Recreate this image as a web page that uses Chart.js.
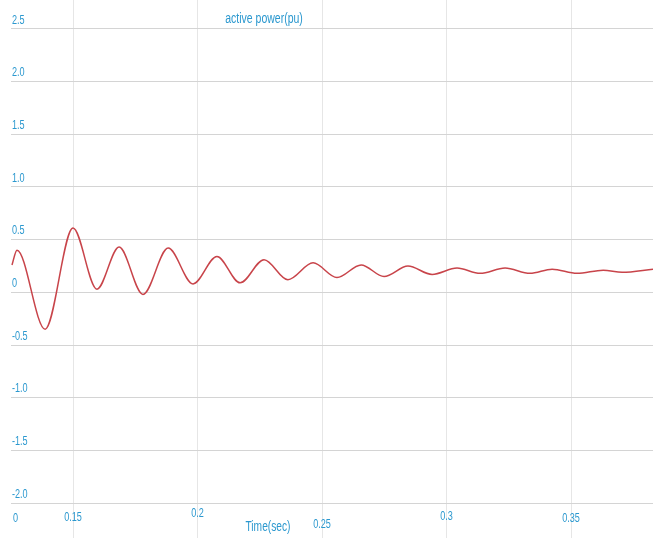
<!DOCTYPE html>
<html>
<head>
<meta charset="utf-8">
<script src="https://cdn.jsdelivr.net/npm/chart.js@4/dist/chart.umd.min.js"></script>
<style>
  html, body { margin: 0; padding: 0; background: #ffffff; }
  #wrap { width: 653px; height: 538px; position: relative; }
</style>
</head>
<body>
<div id="wrap"><canvas id="c"></canvas></div>
<script>
// Time axis samples (seconds) and active power (pu) at the swing extremes
const timeSec = [
  0.1255, 0.1275, 0.1388, 0.1500, 0.1596, 0.1685, 0.1781, 0.1882, 0.1982, 0.2078,
  0.2171, 0.2267, 0.2363, 0.2464, 0.2560, 0.2657, 0.2749, 0.2845, 0.2942, 0.3042,
  0.3135, 0.3235, 0.3335, 0.3424, 0.3524, 0.3629, 0.3705, 0.3829
];
const activePower = [
  0.26, 0.40, -0.35, 0.61, 0.03, 0.43, -0.02, 0.42, 0.08, 0.34,
  0.09, 0.31, 0.12, 0.28, 0.14, 0.26, 0.15, 0.25, 0.17, 0.23,
  0.18, 0.23, 0.18, 0.22, 0.18, 0.21, 0.19, 0.22
];

// Axis ticks
const xTickValues = [0.15, 0.2, 0.25, 0.3, 0.35];
const xTickLabels = ['0.15', '0.2', '0.25', '0.3', '0.35'];
const xOriginLabel = '0';
const yTickValues = [-2.0, -1.5, -1.0, -0.5, 0, 0.5, 1.0, 1.5, 2.0, 2.5];
const yTickLabels = ['-2.0', '-1.5', '-1.0', '-0.5', '0', '0.5', '1.0', '1.5', '2.0', '2.5'];

const chartTitle = 'active power(pu)';
const xTitle = 'Time(sec)';

const FONT = '"Liberation Sans", Arial, sans-serif';
const TEXT_BLUE = '#2b98cf';

// Narrow-looking text: regular face squeezed horizontally
function narrowText(ctx, text, x, y, align, size, squeeze) {
  ctx.save();
  ctx.font = size + 'px ' + FONT;
  ctx.textAlign = align;
  ctx.textBaseline = 'middle';
  ctx.translate(x, y);
  ctx.scale(squeeze, 1);
  ctx.fillText(text, 0, 0);
  ctx.restore();
}

// Title, tick labels and axis caption, all placed inside the plot area
const overlayText = {
  id: 'overlayText',
  afterDraw(chart) {
    const ctx = chart.ctx;
    const xs = chart.scales.x;
    const ys = chart.scales.y;
    ctx.save();
    ctx.fillStyle = TEXT_BLUE;

    narrowText(ctx, chartTitle, 264, 19, 'center', 14, 0.75);

    yTickValues.forEach((v, i) => {
      narrowText(ctx, yTickLabels[i], xs.left + 1, ys.getPixelForValue(v) - 9, 'left', 13, 0.7);
    });

    const rowShift = [0, -4, 7, -1, 1];
    xTickValues.forEach((v, i) => {
      narrowText(ctx, xTickLabels[i], xs.getPixelForValue(v), 517 + rowShift[i], 'center', 13, 0.7);
    });
    narrowText(ctx, xOriginLabel, xs.left + 2, 518, 'left', 13, 0.7);

    narrowText(ctx, xTitle, 268, 527, 'center', 14, 0.73);
    ctx.restore();
  }
};

new Chart(document.getElementById('c'), {
  type: 'line',
  data: {
    datasets: [{
      label: chartTitle,
      data: timeSec.map((t, i) => ({ x: t, y: activePower[i] })),
      borderColor: '#c8444a',
      borderWidth: 1.5,
      pointRadius: 0,
      fill: false,
      cubicInterpolationMode: 'monotone'
    }]
  },
  options: {
    responsive: true,
    maintainAspectRatio: false,
    animation: false,
    layout: { padding: { left: 11, right: 0, top: 0, bottom: 0 } },
    plugins: {
      legend: { display: false },
      title: { display: false },
      tooltip: { enabled: false }
    },
    scales: {
      x: {
        type: 'linear',
        min: 0.1251,
        max: 0.3829,
        afterBuildTicks(scale) {
          scale.ticks = xTickValues.map(v => ({ value: v }));
        },
        ticks: { display: false },
        grid: { color: '#e6e6e6', lineWidth: 1, drawTicks: false },
        border: { display: false }
      },
      y: {
        type: 'linear',
        min: -2.332,
        max: 2.775,
        afterBuildTicks(scale) {
          scale.ticks = yTickValues.map(v => ({ value: v }));
        },
        ticks: { display: false },
        grid: { color: '#d4d4d4', lineWidth: 1, drawTicks: false },
        border: { display: false }
      }
    }
  },
  plugins: [overlayText]
});
</script>
</body>
</html>
